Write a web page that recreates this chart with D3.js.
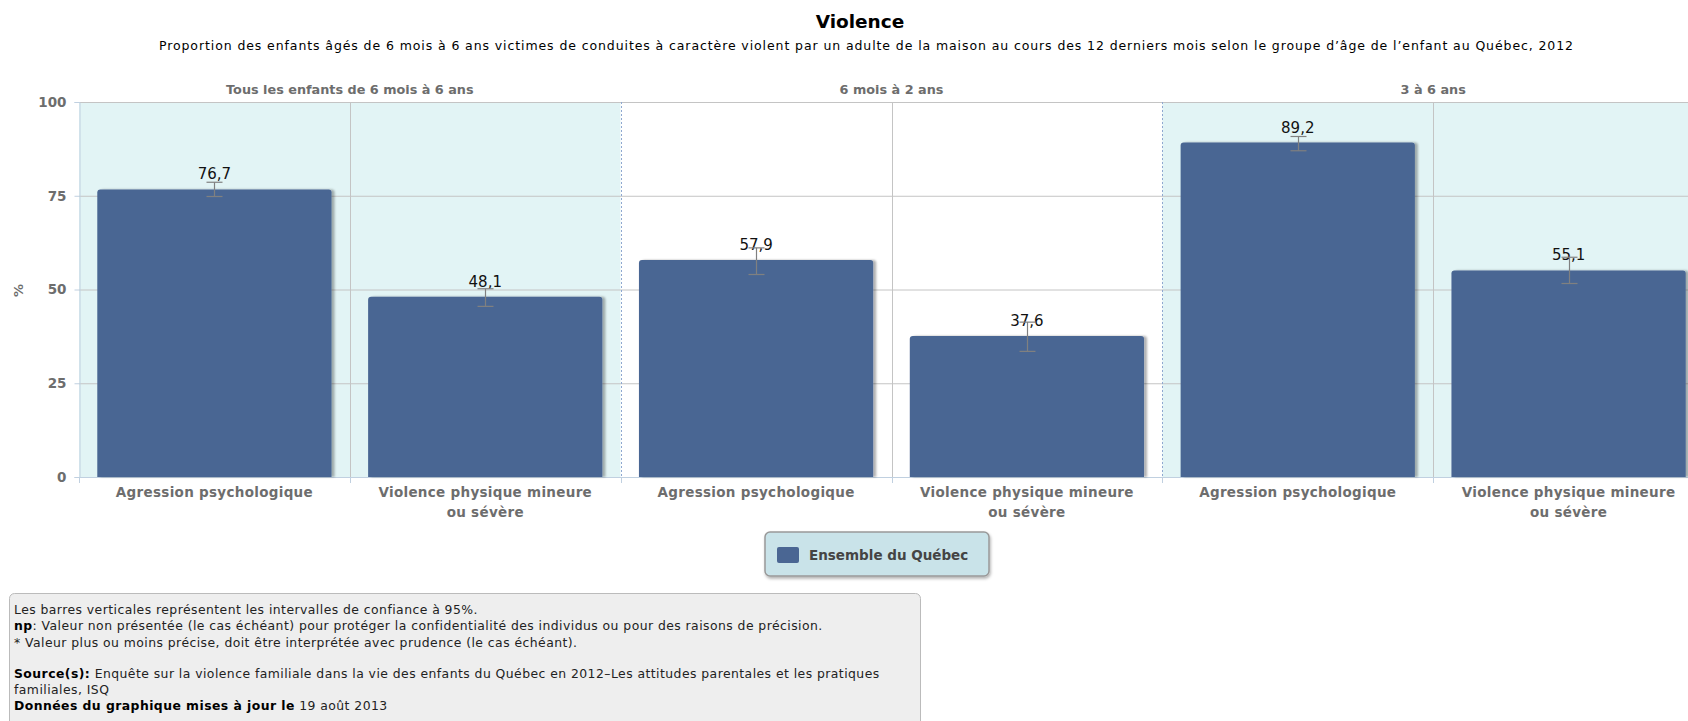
<!DOCTYPE html>
<html>
<head>
<meta charset="utf-8">
<script src="https://cdn.jsdelivr.net/npm/d3@7"></script>
<style>
  body { margin: 0; background: #fff; }
  svg { display: block; font-family: "DejaVu Sans", Verdana, sans-serif; }
</style>
</head>
<body>
<svg id="chart" width="1688" height="721"></svg>
<script>
  // Données
  var groupes = ["Tous les enfants de 6 mois à 6 ans", "6 mois à 2 ans", "3 à 6 ans"];
  var categories = ["Agression psychologique", "Violence physique mineure|ou sévère"];
  var valeurs = [76.7, 48.1, 57.9, 37.6, 89.2, 55.1];
  var ciBas = [74.8, 45.5, 54.0, 33.5, 87.0, 51.6];
  var ciHaut = [78.6, 50.2, 61.1, 41.3, 90.8, 58.6];
  var yTicks = [0, 25, 50, 75, 100];
  var serie = "Ensemble du Québec";

  var notes = [
    [["", "Les barres verticales représentent les intervalles de confiance à 95%."]],
    [["np", ": Valeur non présentée (le cas échéant) pour protéger la confidentialité des individus ou pour des raisons de précision."]],
    [["", "* Valeur plus ou moins précise, doit être interprétée avec prudence (le cas échéant)."]],
    [],
    [["Source(s):", " Enquête sur la violence familiale dans la vie des enfants du Québec en 2012\u2013Les attitudes parentales et les pratiques"]],
    [["", "familiales, ISQ"]],
    [["Données du graphique mises à jour le", " 19 août 2013"]]
  ];

  var barColor = "#4a6693";
  var labelGray = "#6d6d6d";

  var margin = { top: 102, left: 79 };
  var plotRight = 1704, plotBottom = 477;

  var svg = d3.select("#chart");

  var defs = svg.append("defs");
  defs.append("filter").attr("id", "ombre").attr("x", "-10%").attr("y", "-10%").attr("width", "130%").attr("height", "130%")
    .append("feDropShadow").attr("dx", 3).attr("dy", 0).attr("stdDeviation", 1.2)
    .attr("flood-color", "#000").attr("flood-opacity", 0.3);
  defs.append("filter").attr("id", "ombre2").attr("x", "-10%").attr("y", "-20%").attr("width", "130%").attr("height", "160%")
    .append("feDropShadow").attr("dx", 1).attr("dy", 2).attr("stdDeviation", 1.5)
    .attr("flood-color", "#000").attr("flood-opacity", 0.3);

  // Échelles
  var ids = d3.range(valeurs.length);
  var x = d3.scaleBand().domain(ids).range([margin.left, plotRight]).paddingInner(0.135).paddingOuter(0.0675);
  var xg = d3.scaleBand().domain(groupes).range([margin.left, plotRight]);
  var y = d3.scaleLinear().domain([0, 100]).range([plotBottom, margin.top]);
  var step = x.step();
  var bandStart = function(i) { return x(i) - step * x.paddingInner() / 2; };

  // Titres
  svg.append("text").attr("x", 860).attr("y", 28).attr("text-anchor", "middle")
    .attr("font-size", 18.5).attr("font-weight", "bold").attr("fill", "#000").text("Violence");
  svg.append("text").attr("x", 866).attr("y", 50).attr("text-anchor", "middle")
    .attr("font-size", 12.5).attr("fill", "#000")
    .attr("textLength", 1414).attr("lengthAdjust", "spacing")
    .text("Proportion des enfants âgés de 6 mois à 6 ans victimes de conduites à caractère violent par un adulte de la maison au cours des 12 derniers mois selon le groupe d’âge de l’enfant au Québec, 2012");

  // Fonds des groupes
  svg.append("g").selectAll("rect").data(groupes).join("rect")
    .attr("x", function(d) { return xg(d); })
    .attr("y", y(100))
    .attr("width", xg.bandwidth())
    .attr("height", y(0) - y(100))
    .attr("fill", function(d, i) { return i % 2 === 0 ? "#e2f4f5" : "#ffffff"; });

  // Grille horizontale
  svg.append("g").selectAll("line").data(yTicks.filter(function(t) { return t > 0; })).join("line")
    .attr("x1", margin.left).attr("x2", plotRight)
    .attr("y1", function(d) { return y(d) + 0.5; }).attr("y2", function(d) { return y(d) + 0.5; })
    .attr("stroke", "#c4c4c4").attr("stroke-width", 1);

  // Grille verticale (entre catégories d'un groupe)
  svg.append("g").selectAll("line").data(ids.filter(function(i) { return i % 2 === 1; })).join("line")
    .attr("x1", function(i) { return Math.round(bandStart(i)) + 0.5; })
    .attr("x2", function(i) { return Math.round(bandStart(i)) + 0.5; })
    .attr("y1", y(100)).attr("y2", y(0))
    .attr("stroke", "#c4c4c4").attr("stroke-width", 1);

  // Séparateurs de groupes
  svg.append("g").selectAll("line").data(groupes.slice(1)).join("line")
    .attr("x1", function(d) { return Math.round(xg(d)) + 0.5; })
    .attr("x2", function(d) { return Math.round(xg(d)) + 0.5; })
    .attr("y1", y(100)).attr("y2", y(0))
    .attr("stroke", "#8fa8d0").attr("stroke-width", 1).attr("stroke-dasharray", "2,2");

  // Étiquettes de groupes
  svg.append("g").selectAll("text").data(groupes).join("text")
    .attr("x", function(d) { return xg(d) + xg.bandwidth() / 2; })
    .attr("y", 94).attr("text-anchor", "middle")
    .attr("font-size", 12.8).attr("font-weight", "bold").attr("fill", labelGray)
    .text(function(d) { return d; });

  // Axe Y
  var yAxis = d3.axisLeft(y).tickValues(yTicks).tickSize(5).tickPadding(8);
  var gy = svg.append("g").attr("transform", "translate(" + (margin.left + 0.5) + ",0)").call(yAxis);
  gy.select(".domain").attr("stroke", "#c0d0e0");
  gy.selectAll(".tick line").attr("stroke", "#c0d0e0");
  gy.selectAll(".tick text").attr("font-size", 13.5).attr("font-weight", "bold").attr("fill", labelGray)
    .attr("font-family", "DejaVu Sans, sans-serif");

  svg.append("text").attr("transform", "translate(23," + (y(50) + 1) + ") rotate(-90)")
    .attr("text-anchor", "middle").attr("font-size", 13).attr("font-weight", "bold").attr("fill", labelGray).text("%");

  // Axe X
  svg.append("line").attr("x1", margin.left).attr("x2", plotRight)
    .attr("y1", y(0) + 0.5).attr("y2", y(0) + 0.5).attr("stroke", "#c0d0e0");
  svg.append("g").selectAll("line").data(ids).join("line")
    .attr("x1", function(i) { return Math.round(bandStart(i)) + 0.5; })
    .attr("x2", function(i) { return Math.round(bandStart(i)) + 0.5; })
    .attr("y1", y(0)).attr("y2", y(0) + 6).attr("stroke", "#c0d0e0");

  var xl = svg.append("g").selectAll("text").data(ids).join("text")
    .attr("x", function(i) { return x(i) + x.bandwidth() / 2; })
    .attr("y", 497).attr("text-anchor", "middle")
    .attr("font-size", 13.5).attr("font-weight", "bold").attr("letter-spacing", 0.3).attr("fill", labelGray);
  xl.each(function(i) {
    var lignes = categories[i % 2].split("|");
    var t = d3.select(this);
    lignes.forEach(function(l, k) {
      t.append("tspan").attr("x", x(i) + x.bandwidth() / 2).attr("dy", k === 0 ? 0 : 20).text(l);
    });
  });

  // Barres
  svg.append("g").selectAll("path").data(ids).join("path")
    .attr("d", function(i) {
      var x0 = x(i), w = x.bandwidth(), top = y(valeurs[i]), bot = y(0), r = 3;
      return "M" + x0 + "," + bot + "V" + (top + r) + "Q" + x0 + "," + top + " " + (x0 + r) + "," + top +
        "H" + (x0 + w - r) + "Q" + (x0 + w) + "," + top + " " + (x0 + w) + "," + (top + r) + "V" + bot + "Z";
    })
    .attr("fill", barColor).attr("filter", "url(#ombre)");

  // Étiquettes de valeurs
  svg.append("g").selectAll("text").data(ids).join("text")
    .attr("x", function(i) { return x(i) + x.bandwidth() / 2; })
    .attr("y", function(i) { return y(valeurs[i]) - 10; })
    .attr("text-anchor", "middle").attr("font-size", 15).attr("fill", "#111")
    .text(function(i) { return d3.format(".1f")(valeurs[i]).replace(".", ","); });

  // Barres d'erreur
  var eb = svg.append("g").attr("stroke", "#808080").attr("stroke-width", 1.2);
  ids.forEach(function(i) {
    var cx = Math.round(x(i) + x.bandwidth() / 2) + 0.5;
    eb.append("line").attr("x1", cx).attr("x2", cx).attr("y1", y(ciHaut[i])).attr("y2", y(ciBas[i]));
    eb.append("line").attr("x1", cx - 8).attr("x2", cx + 8).attr("y1", y(ciHaut[i])).attr("y2", y(ciHaut[i]));
    eb.append("line").attr("x1", cx - 8).attr("x2", cx + 8).attr("y1", y(ciBas[i])).attr("y2", y(ciBas[i]));
  });

  // Légende
  var lg = svg.append("g").attr("transform", "translate(765,532)");
  lg.append("rect").attr("width", 224).attr("height", 44).attr("rx", 5)
    .attr("fill", "#c9e3e9").attr("stroke", "#999").attr("stroke-width", 1.5).attr("filter", "url(#ombre2)");
  lg.append("rect").attr("x", 12).attr("y", 15).attr("width", 22).attr("height", 16).attr("rx", 2).attr("fill", barColor);
  lg.append("text").attr("x", 44).attr("y", 28).attr("font-size", 13.5).attr("font-weight", "bold")
    .attr("fill", "#444").text(serie);

  // Notes
  var ng = svg.append("g").attr("transform", "translate(9,593)");
  ng.append("rect").attr("x", 0.5).attr("y", 0.5).attr("width", 911).attr("height", 140).attr("rx", 5)
    .attr("fill", "#eeeeee").attr("stroke", "#bbbbbb");
  var lineY = [21, 37, 54, 0, 85, 101, 117];
  notes.forEach(function(parts, k) {
    if (!parts.length) return;
    var t = ng.append("text").attr("x", 5).attr("y", lineY[k]).attr("font-size", 12.4)
      .attr("letter-spacing", 0.45).attr("fill", "#222");
    parts.forEach(function(p) {
      if (p[0]) t.append("tspan").attr("font-weight", "bold").attr("fill", "#000").text(p[0]);
      t.append("tspan").text(p[1]);
    });
  });
</script>
</body>
</html>
